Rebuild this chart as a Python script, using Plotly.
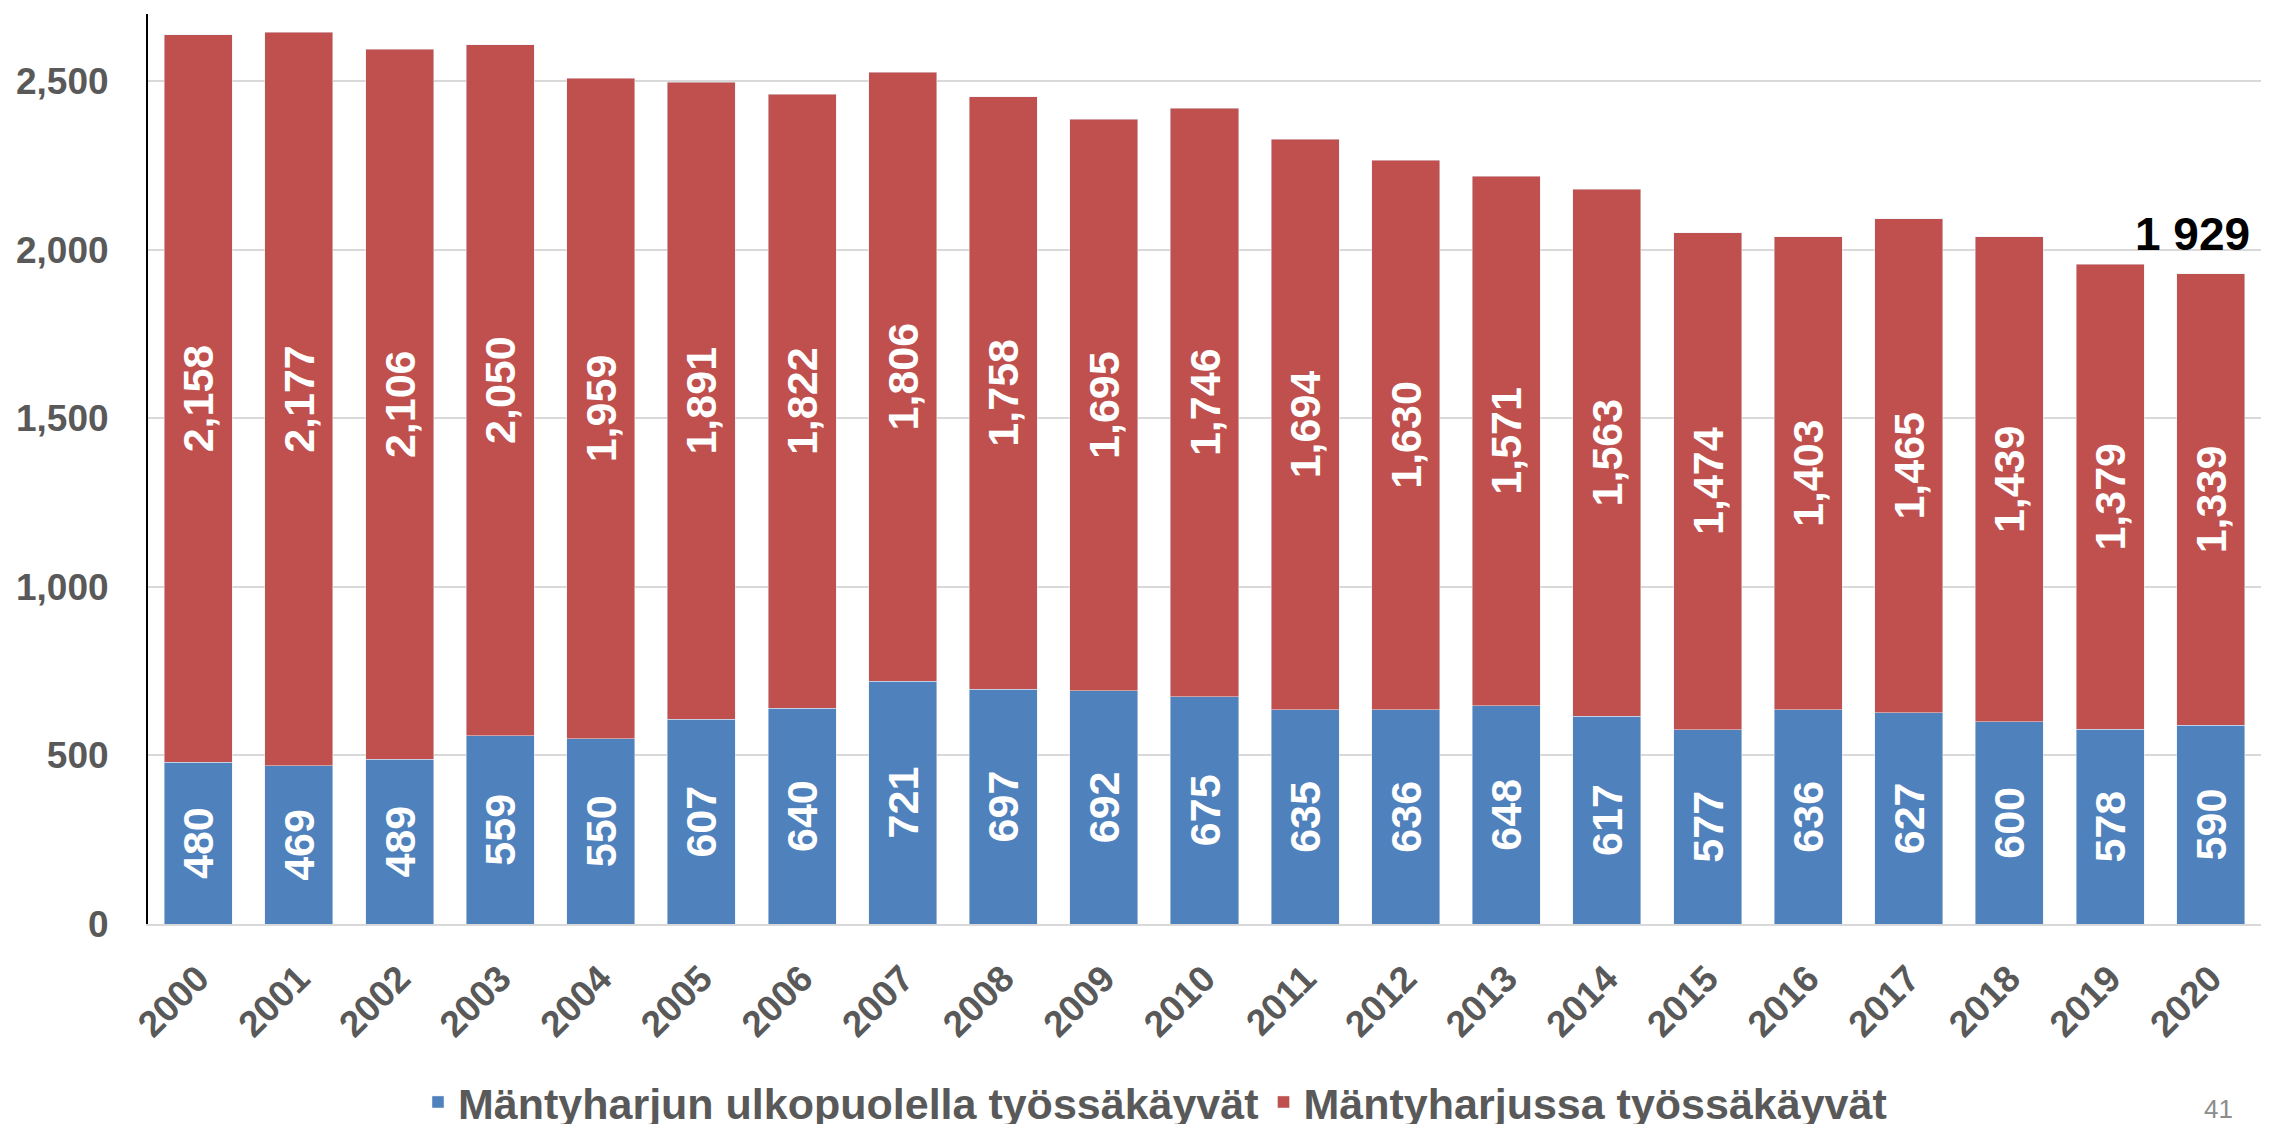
import plotly.graph_objects as go

years = [str(y) for y in range(2000, 2021)]
outside = [480, 469, 489, 559, 550, 607, 640, 721, 697, 692, 675, 635, 636, 648, 617, 577, 636, 627, 600, 578, 590]
inside = [2158, 2177, 2106, 2050, 1959, 1891, 1822, 1806, 1758, 1695, 1746, 1694, 1630, 1571, 1563, 1474, 1403, 1465, 1439, 1379, 1339]
series_names = ["Mäntyharjun ulkopuolella työssäkäyvät", "Mäntyharjussa työssäkäyvät"]
page_number = "41"

W, H = 2270, 1124
ml, mr, mt, mb = 140, 17, 6, 208

FONT = "Liberation Sans, Arial, sans-serif"
GRAY = "#595959"

fig = go.Figure()
fig.add_trace(go.Bar(
    x=years, y=outside, name=series_names[0], marker_color="#4F81BD",
    texttemplate="%{y:,}", textposition="inside", insidetextanchor="middle",
    textangle=-90, textfont=dict(family=FONT, size=43, color="white", weight="bold"),
    constraintext="none",
))
fig.add_trace(go.Bar(
    x=years, y=inside, name=series_names[1], marker_color="#C0504D",
    texttemplate="%{y:,}", textposition="inside", insidetextanchor="middle",
    textangle=-90, textfont=dict(family=FONT, size=43, color="white", weight="bold"),
    constraintext="none",
))

total_last = outside[-1] + inside[-1]
fig.add_annotation(
    x=len(years) - 1, y=total_last, xref="x", yref="y",
    text="<b>" + f"{total_last:,}".replace(",", " ") + "</b>",
    showarrow=False, yanchor="bottom", xshift=-18, yshift=12,
    font=dict(family=FONT, size=46, color="black"),
)

plot_h = H - mt - mb
fig.add_annotation(
    x=(2210 - ml) / (W - ml - mr), y=-(1084 - (H - mb)) / plot_h,
    xref="paper", yref="paper", text=page_number, showarrow=False,
    yanchor="top", xanchor="center",
    font=dict(family=FONT, size=26, color="#8c8c8c"),
)

fig.update_layout(
    width=W, height=H, barmode="stack", bargap=0.324,
    margin=dict(l=ml, r=mr, t=mt, b=mb, autoexpand=False),
    plot_bgcolor="white", paper_bgcolor="white",
    font=dict(family=FONT, color=GRAY),
    legend=dict(
        orientation="h", x=(1147 - ml) / (W - ml - mr), xanchor="center",
        y=-(1094 - (H - mb)) / plot_h, yanchor="middle",
        font=dict(family=FONT, size=43, color=GRAY, weight="bold"),
        traceorder="normal", itemwidth=30,
    ),
    xaxis=dict(
        type="category", range=[-0.5, len(years) - 0.5],
        tickangle=-45, showline=True, linecolor="#d9d9d9", linewidth=2,
        tickfont=dict(family=FONT, size=37, color=GRAY, weight="bold"),
        ticks="", ticklabelstandoff=16,
    ),
    yaxis=dict(
        range=[0, 2700], tickvals=[0, 500, 1000, 1500, 2000, 2500], tickformat=",",
        showline=True, linecolor="black", linewidth=2,
        showgrid=True, gridcolor="#d9d9d9", gridwidth=2, zeroline=False,
        tickfont=dict(family=FONT, size=37, color=GRAY, weight="bold"),
        ticks="", ticklabelstandoff=30,
    ),
)

fig.write_html("out.html")
